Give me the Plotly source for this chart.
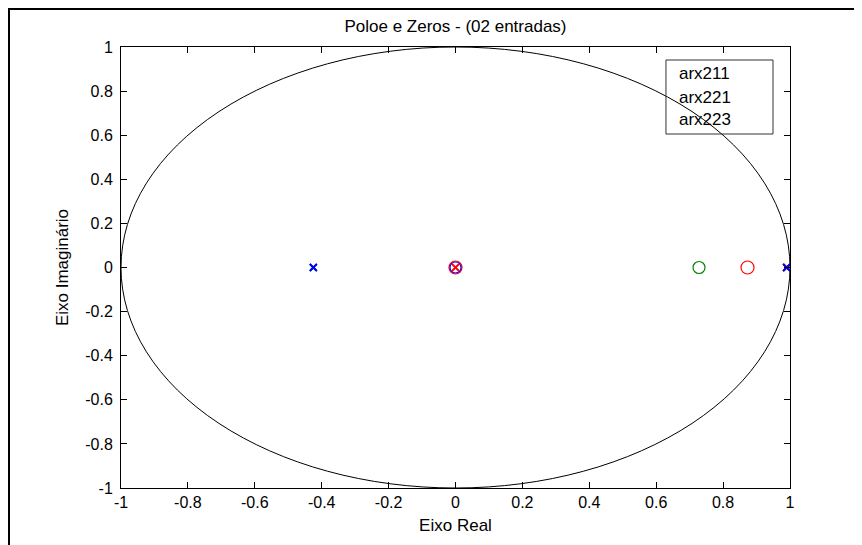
import plotly.graph_objects as go

# ---- data ----
model_names = ["arx211", "arx221", "arx223"]
model_colors = ["#0000ff", "#008000", "#ff0000"]

# poles (x markers) and zeros (o markers), real / imaginary parts
arx211_poles_re = [-0.425, 0.99]
arx211_poles_im = [0.0, 0.0]
arx211_zeros_re = [0.0]
arx211_zeros_im = [0.0]

arx221_poles_re = [-0.425, 0.99]
arx221_poles_im = [0.0, 0.0]
arx221_zeros_re = [0.728]
arx221_zeros_im = [0.0]

arx223_poles_re = [0.0, 0.99]
arx223_poles_im = [0.0, 0.0]
arx223_zeros_re = [0.873, 0.0]
arx223_zeros_im = [0.0, 0.0]

tick_vals = [-1, -0.8, -0.6, -0.4, -0.2, 0, 0.2, 0.4, 0.6, 0.8, 1]
tick_text = ["-1", "-0.8", "-0.6", "-0.4", "-0.2", "0", "0.2", "0.4", "0.6", "0.8", "1"]

FONT = "Liberation Sans, Arial, sans-serif"

fig = go.Figure()


def poles(re, im, color, name):
    fig.add_trace(go.Scatter(
        x=re, y=im, mode="markers", name=name, showlegend=False,
        marker=dict(symbol="x-thin", size=7, color=color,
                    line=dict(color=color, width=1.8)),
    ))


def zeros(re, im, color, name, size=12):
    fig.add_trace(go.Scatter(
        x=re, y=im, mode="markers", name=name, showlegend=False,
        marker=dict(symbol="circle-open", size=size, color=color,
                    line=dict(color=color, width=1.2)),
    ))


# draw order chosen so overlaps look like the reference
poles(arx221_poles_re, arx221_poles_im, model_colors[1], model_names[1])
zeros(arx221_zeros_re, arx221_zeros_im, model_colors[1], model_names[1])
zeros(arx223_zeros_re, arx223_zeros_im, model_colors[2], model_names[2], size=13)
zeros(arx211_zeros_re, arx211_zeros_im, model_colors[0], model_names[0], size=11)
poles(arx223_poles_re, arx223_poles_im, model_colors[2], model_names[2])
poles(arx211_poles_re, arx211_poles_im, model_colors[0], model_names[0])

axis_common = dict(
    range=[-1, 1], tickvals=tick_vals, ticktext=tick_text,
    showgrid=False, zeroline=False,
    showline=True, linecolor="black", linewidth=1, mirror="ticks",
    ticks="inside", ticklen=6, tickcolor="black", tickwidth=1,
    tickfont=dict(family=FONT, size=16, color="black"),
)

fig.update_xaxes(**axis_common,
                 title=dict(text="Eixo Real", font=dict(family=FONT, size=17, color="black"),
                            standoff=8))
fig.update_yaxes(**axis_common, ticklabelstandoff=4,
                 title=dict(text="Eixo Imaginário", font=dict(family=FONT, size=17, color="black"),
                            standoff=12))

shapes = [
    # unit circle
    dict(type="circle", xref="x", yref="y", x0=-1, y0=-1, x1=1, y1=1,
         line=dict(color="black", width=1), layer="below"),
    # outer figure frame (left and top edges visible)
    dict(type="rect", xref="paper", yref="paper", x0=-0.1674, x1=1.2, y0=-0.2, y1=1.0862,
         line=dict(color="black", width=2)),
    # legend box
    dict(type="rect", xref="paper", yref="paper", x0=0.8146, x1=0.9746, y0=0.8027, y1=0.9705,
         line=dict(color="#333333", width=1)),
]

legend_y = [0.9388, 0.8866, 0.8345]
annotations = [
    dict(text=n, xref="paper", yref="paper", x=0.831, y=yy, xanchor="left", yanchor="middle",
         showarrow=False, font=dict(family=FONT, size=17, color="black"))
    for n, yy in zip(model_names, legend_y)
]

fig.update_layout(
    width=854, height=537,
    margin=dict(l=113, r=72, t=39, b=57),
    paper_bgcolor="white", plot_bgcolor="white",
    title=dict(text="Poloe e Zeros - (02 entradas)", x=0.5, xref="paper",
               y=1 - 18 / 537, yref="container", yanchor="middle", xanchor="center",
               font=dict(family=FONT, size=17, color="black")),
    shapes=shapes, annotations=annotations,
    showlegend=False,
)

fig.write_html("out.html")
